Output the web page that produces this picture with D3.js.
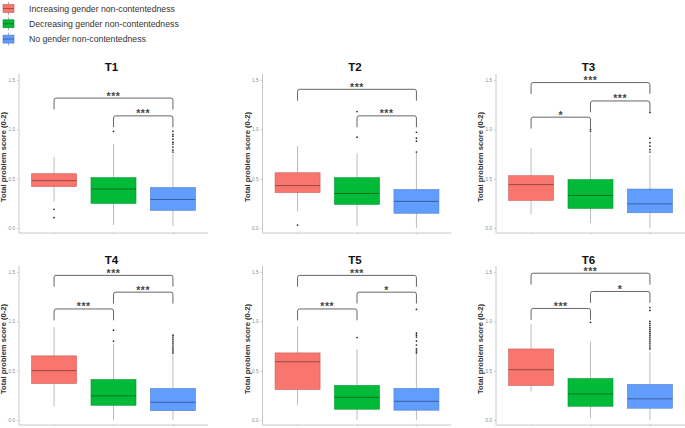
<!DOCTYPE html>
<html>
<head>
<meta charset="utf-8">
<script src="https://cdn.jsdelivr.net/npm/d3@7"></script>
<style>
  body { margin: 0; background: #fff; }
  text { font-family: "Liberation Sans", Arial, sans-serif; }
</style>
</head>
<body>
<div id="chart"></div>
<script>
// data
const panels = ["T1", "T2", "T3", "T4", "T5", "T6"];
const groups = ["Increasing gender non-contentedness", "Decreasing gender non-contentedness", "No gender non-contentedness"];
const colors = ["#F8766D", "#00BA38", "#619CFF"];
const yTicks = [0, 0.5, 1.0, 1.5];

// per panel: [red, green, blue]
const whiskerLow = [[0.27, 0.03, 0.02], [0.17, 0.02, 0.0], [0.14, 0.05, 0.0], [0.14, 0.0, 0.0], [0.15, 0.0, 0.0], [0.29, 0.02, 0.0]];
const q1 = [[0.42, 0.25, 0.18], [0.36, 0.24, 0.15], [0.28, 0.20, 0.155], [0.37, 0.15, 0.095], [0.31, 0.11, 0.10], [0.35, 0.14, 0.12]];
const median = [[0.48, 0.395, 0.29], [0.43, 0.35, 0.27], [0.44, 0.33, 0.245], [0.50, 0.245, 0.18], [0.59, 0.23, 0.19], [0.51, 0.265, 0.215]];
const q3 = [[0.55, 0.51, 0.41], [0.56, 0.51, 0.39], [0.53, 0.49, 0.395], [0.65, 0.41, 0.32], [0.68, 0.35, 0.32], [0.72, 0.42, 0.36]];
const whiskerHigh = [[0.72, 0.85, 0.755], [0.83, 0.755, 0.765], [0.81, 0.96, 0.735], [0.94, 0.77, 0.665], [0.95, 0.72, 0.665], [0.975, 0.795, 0.69]];

const outliers = [
  [[0.19, 0.105], [0.98], [0.98, 0.95, 0.93, 0.90, 0.87, 0.85, 0.82, 0.79, 0.77]],
  [[0.03], [0.92, 1.18], [0.97, 0.91, 0.88, 0.77]],
  [[], [0.98, 1.0], [1.17, 0.91, 0.865, 0.83, 0.795, 0.77]],
  [[], [0.91, 0.80], [0.86, 0.84, 0.82, 0.80, 0.78, 0.76, 0.74, 0.72, 0.70, 0.68]],
  [[], [0.835], [1.12, 0.88, 0.86, 0.84, 0.80, 0.76, 0.72, 0.70, 0.68]],
  [[], [0.99], [1.14, 1.11, 1.0, 0.98, 0.96, 0.94, 0.92, 0.90, 0.88, 0.86, 0.84, 0.82, 0.80, 0.78, 0.76, 0.74, 0.72]]
];

// significance brackets: [from group, to group, height, label]
const brackets = [
  [[0, 2, 1.316, "***"], [1, 2, 1.136, "***"]],
  [[0, 2, 1.405, "***"], [1, 2, 1.136, "***"]],
  [[0, 2, 1.473, "***"], [1, 2, 1.287, "***"], [0, 1, 1.123, "*"]],
  [[0, 2, 1.465, "***"], [1, 2, 1.295, "***"], [0, 1, 1.125, "***"]],
  [[0, 2, 1.465, "***"], [1, 2, 1.295, "*"], [0, 1, 1.125, "***"]],
  [[0, 2, 1.487, "***"], [1, 2, 1.302, "*"], [0, 1, 1.13, "***"]]
];

const W = 685, H = 428;
const colX = [19, 262.5, 496];
const rowY = [[233, 74], [425, 266]];
const panelW = 189, boxW = 45;

const svg = d3.select("#chart").append("svg")
  .attr("width", W).attr("height", H);

// legend
const legend = svg.append("g").attr("transform", "translate(3,2)");
groups.forEach((g, i) => {
  const row = legend.append("g").attr("transform", `translate(0,${i * 15.3})`);
  row.append("line").attr("x1", 5.5).attr("x2", 5.5).attr("y1", 0).attr("y2", 13)
    .attr("stroke", "#999").attr("stroke-width", 0.8);
  row.append("rect").attr("x", 0).attr("y", 2.5).attr("width", 11).attr("height", 8)
    .attr("fill", colors[i]).attr("stroke", d3.color(colors[i]).darker(0.7)).attr("stroke-width", 0.6);
  row.append("line").attr("x1", 0).attr("x2", 11).attr("y1", 6.5).attr("y2", 6.5)
    .attr("stroke", d3.color(colors[i]).darker(1.5)).attr("stroke-width", 0.8);
  row.append("text").attr("x", 26).attr("y", 9.8).text(g)
    .style("font-size", "8.7px").style("fill", "#333");
});

panels.forEach((name, p) => {
  const col = p % 3, row = Math.floor(p / 3);
  const x0 = colX[col];
  const g = svg.append("g");

  const x = d3.scalePoint().domain(d3.range(3)).range([x0, x0 + panelW]).padding(0.59);
  const y = d3.scaleLinear().domain([-0.05, 1.56]).range(rowY[row]);

  // axes lines
  g.append("line").attr("x1", x0).attr("x2", x0).attr("y1", y(1.56)).attr("y2", y(-0.05))
    .attr("stroke", "#c8c8c8").attr("stroke-width", 1);
  g.append("line").attr("x1", x0).attr("x2", x0 + panelW).attr("y1", y(-0.05)).attr("y2", y(-0.05))
    .attr("stroke", "#c8c8c8").attr("stroke-width", 1);

  const yAxis = d3.axisLeft(y).tickValues(yTicks).tickFormat(d3.format(".1f")).tickSize(2).tickPadding(2);
  const ya = g.append("g").attr("transform", `translate(${x0},0)`).call(yAxis);
  ya.select(".domain").remove();
  ya.selectAll(".tick line").attr("stroke", "#ccc");
  ya.selectAll(".tick text").style("font-size", "4.6px").style("fill", "#888")
    .style("font-family", "Liberation Sans, Arial, sans-serif");

  const xAxis = d3.axisBottom(x).tickSize(1.5).tickFormat("");
  const xa = g.append("g").attr("transform", `translate(0,${y(-0.05)})`).call(xAxis);
  xa.select(".domain").remove();
  xa.selectAll(".tick line").attr("stroke", "#ccc");

  // title
  g.append("text").attr("x", x0 + panelW / 2 - 2).attr("y", row === 0 ? 71 : 264)
    .attr("text-anchor", "middle").text(name)
    .style("font-size", "11.5px").style("font-weight", "bold").style("fill", "#111");

  // y label
  g.append("text")
    .attr("transform", `translate(${x0 - 13},${y(0.72)}) rotate(-90)`)
    .attr("text-anchor", "middle").text("Total problem  score (0-2)")
    .style("font-size", "7.6px").style("font-weight", "bold").style("fill", "#333");

  // boxes
  d3.range(3).forEach(i => {
    const cx = x(i);
    g.append("line").attr("x1", cx).attr("x2", cx)
      .attr("y1", y(whiskerLow[p][i])).attr("y2", y(whiskerHigh[p][i]))
      .attr("stroke", "#aaa").attr("stroke-width", 0.8);
    g.append("rect").attr("x", cx - boxW / 2).attr("width", boxW)
      .attr("y", y(q3[p][i])).attr("height", y(q1[p][i]) - y(q3[p][i]))
      .attr("fill", colors[i]).attr("stroke", d3.color(colors[i]).darker(0.6)).attr("stroke-width", 0.6);
    g.append("line").attr("x1", cx - boxW / 2).attr("x2", cx + boxW / 2)
      .attr("y1", y(median[p][i])).attr("y2", y(median[p][i]))
      .attr("stroke", d3.color(colors[i]).darker(1.6)).attr("stroke-width", 0.9);
    g.selectAll(null).data(outliers[p][i]).join("circle")
      .attr("cx", cx).attr("cy", d => y(d)).attr("r", 0.85).attr("fill", "#222");
  });

  // brackets
  brackets[p].forEach(([a, b, h, lab]) => {
    const xa1 = x(a), xb1 = x(b), yt = y(h), yb = y(h - 0.115), r = 2;
    g.append("path")
      .attr("d", `M${xa1},${yb} L${xa1},${yt + r} Q${xa1},${yt} ${xa1 + r},${yt} L${xb1 - r},${yt} Q${xb1},${yt} ${xb1},${yt + r} L${xb1},${yb}`)
      .attr("fill", "none").attr("stroke", "#555").attr("stroke-width", 0.9);
    g.append("text").attr("x", (xa1 + xb1) / 2).attr("y", yt + 1.5)
      .attr("text-anchor", "middle").text(lab)
      .style("font-size", "10.5px").style("font-weight", "bold").style("fill", "#444")
      .style("letter-spacing", "0.6px");
  });
});
</script>
</body>
</html>
